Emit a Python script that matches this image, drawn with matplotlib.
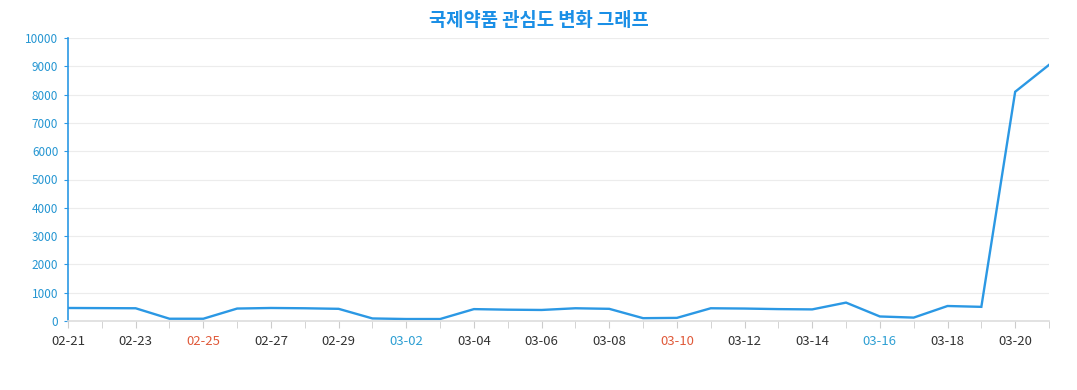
import matplotlib
matplotlib.use('Agg')
import matplotlib.pyplot as plt

# data (2024-02-21 .. 2024-03-21)
dates = ['02-21', '02-22', '02-23', '02-24', '02-25', '02-26', '02-27', '02-28',
         '02-29', '03-01', '03-02', '03-03', '03-04', '03-05', '03-06', '03-07',
         '03-08', '03-09', '03-10', '03-11', '03-12', '03-13', '03-14', '03-15',
         '03-16', '03-17', '03-18', '03-19', '03-20', '03-21']
interest = [460, 455, 450, 80, 80, 440, 460, 450, 430, 90, 70, 70, 420, 400,
            390, 450, 430, 100, 110, 450, 440, 420, 410, 650, 160, 120, 530,
            500, 8100, 9050]
saturdays = ['03-02', '03-16']
sundays = ['02-25', '03-10']
y_ticks = [0, 1000, 2000, 3000, 4000, 5000, 6000, 7000, 8000, 9000, 10000]

plt.rcParams['font.family'] = ['Noto Sans CJK KR', 'DejaVu Sans']

fig = plt.figure(figsize=(10.77, 3.9), dpi=100)
ax = fig.add_axes([68 / 1077, 1 - 321 / 390, (1049 - 68) / 1077, (321 - 38) / 390])

x = list(range(len(dates)))
ax.plot(x, interest, color='#2b98e4', linewidth=1.7, solid_joinstyle='miter')

ax.set_xlim(0, len(dates) - 1)
ax.set_ylim(0, 10000)
ax.set_yticks(y_ticks)
ax.set_yticklabels([str(v) for v in y_ticks])
ax.grid(axis='y', color='#ececec', linewidth=0.8)
ax.set_axisbelow(True)

ax.set_xticks(x[::2])
ax.set_xticklabels(dates[::2])
ax.set_xticks(x, minor=True)
for lbl, d in zip(ax.get_xticklabels(), dates[::2]):
    if d in saturdays:
        lbl.set_color('#2e9fd3')
    elif d in sundays:
        lbl.set_color('#e05a3a')
    else:
        lbl.set_color('#333333')

ax.tick_params(axis='x', which='both', length=5, color='#cccccc', labelsize=9.5, pad=5)
ax.tick_params(axis='y', length=3, color='#2b98e4', labelcolor='#2596d2', labelsize=8.5, pad=4)

for s in ['top', 'right']:
    ax.spines[s].set_visible(False)
ax.spines['left'].set_color('#2b98e4')
ax.spines['left'].set_linewidth(1.2)
ax.spines['bottom'].set_color('#dddddd')
ax.spines['bottom'].set_linewidth(1.2)

fig.text(0.5, 1 - 20 / 390, '국제약품 관심도 변화 그래프', ha='center', va='center',
         fontsize=13.5, fontweight='bold', color='#1a8fe6')

fig.savefig('out.png', dpi=100)
